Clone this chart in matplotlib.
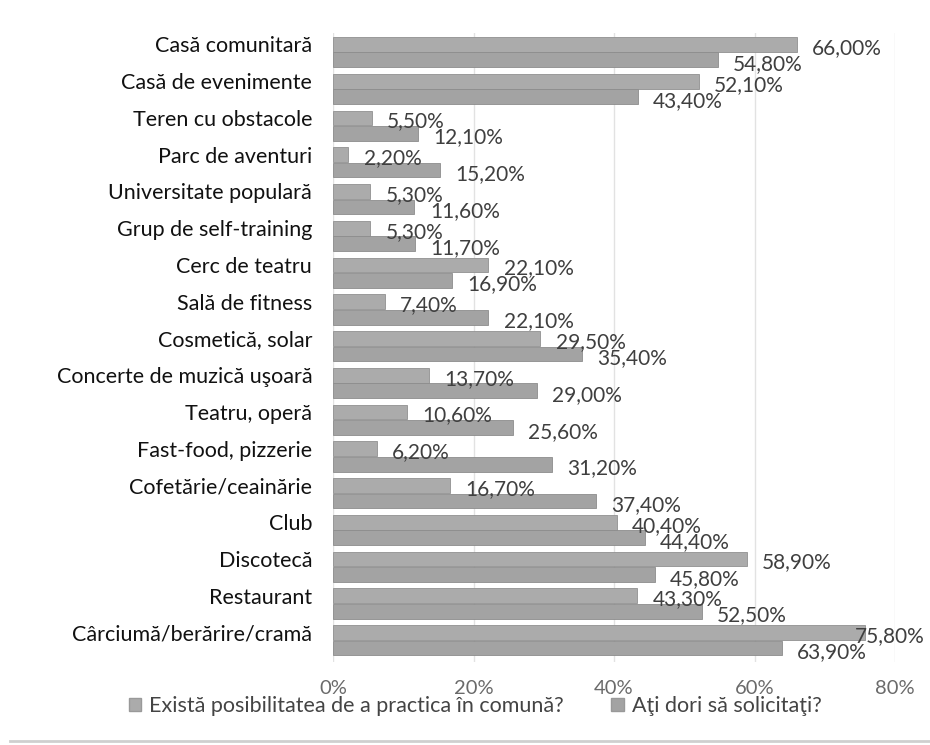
import matplotlib
matplotlib.use("Agg")
import matplotlib.pyplot as plt
from matplotlib.patches import Patch
from matplotlib.lines import Line2D
from matplotlib.transforms import blended_transform_factory
import numpy as np

plt.rcParams['font.family'] = ['Lato', 'DejaVu Sans']

categories = [
    "Casă comunitară", "Casă de evenimente", "Teren cu obstacole", "Parc de aventuri",
    "Universitate populară", "Grup de self-training", "Cerc de teatru", "Sală de fitness",
    "Cosmetică, solar", "Concerte de muzică uşoară", "Teatru, operă", "Fast-food, pizzerie",
    "Cofetărie/ceainărie", "Club", "Discotecă", "Restaurant", "Cârciumă/berărire/cramă",
]
exista = [66.0, 52.1, 5.5, 2.2, 5.3, 5.3, 22.1, 7.4, 29.5, 13.7, 10.6, 6.2, 16.7, 40.4, 58.9, 43.3, 75.8]
ati_dori = [54.8, 43.4, 12.1, 15.2, 11.6, 11.7, 16.9, 22.1, 35.4, 29.0, 25.6, 31.2, 37.4, 44.4, 45.8, 52.5, 63.9]
series_names = ["Există posibilitatea de a practica în comună?", "Aţi dori să solicitaţi?"]
xticks = [0, 20, 40, 60, 80]
xtick_labels = ["0%", "20%", "40%", "60%", "80%"]

W, H = 930, 745
fig = plt.figure(figsize=(W / 100, H / 100), dpi=100)
ax = fig.add_axes([333 / W, 1 - 662 / H, 562 / W, 629 / H])

y = np.arange(len(categories))
h = 0.40
off = 0.42
c1, c2 = "#ababab", "#a3a3a3"
ax.barh(y, exista, height=h, color=c1, edgecolor="#919191", linewidth=0.6, zorder=3)
ax.barh(y + off, ati_dori, height=h, color=c2, edgecolor="#8c8c8c", linewidth=0.6, zorder=3)

lab_col = "#3f3f3f"
edge_tr = blended_transform_factory(fig.transFigure, ax.transData)


def put_label(v, yy, dy):
    txt = f"{v:.2f}%".replace(".", ",")
    if v > 70:
        # keep label inside the figure, as the original chart does
        ax.annotate(txt, (925 / W, yy), xycoords=edge_tr, xytext=(0, dy), textcoords="offset points",
                    va="center", ha="right", fontsize=15, color=lab_col, zorder=4)
    else:
        ax.annotate(txt, (v, yy), xytext=(11, dy), textcoords="offset points",
                    va="center", ha="left", fontsize=15, color=lab_col, zorder=4)


for yi, v in zip(y, exista):
    put_label(v, yi, -2.5)
for yi, v in zip(y, ati_dori):
    put_label(v, yi + off, -3)

ax.set_xlim(0, 80)
ax.set_ylim(16.80, -0.31)
ax.set_yticks(y)
ax.set_yticklabels(categories, fontsize=15.5, color="#111111")
ax.set_xticks(xticks)
ax.set_xticklabels(xtick_labels, fontsize=14.5, color="#6a6a6a")
ax.tick_params(axis="y", length=0, pad=15)
ax.tick_params(axis="x", length=0, pad=13)
ax.grid(axis="x", color="#e2e2e2", linewidth=1, zorder=0)
for s in ax.spines.values():
    s.set_visible(False)

handles = [Patch(facecolor=c1, edgecolor="#999999"), Patch(facecolor=c2, edgecolor="#999999")]
fig.legend(handles, series_names, loc="center", bbox_to_anchor=(475 / W, 1 - 706 / H), ncol=2,
           frameon=False, fontsize=15.5, handlelength=0.6, handleheight=0.6, handletextpad=0.35,
           columnspacing=2.2, labelcolor="#444444", borderpad=0.1)

fig.add_artist(Line2D([10 / W, 1], [1 - 741 / H] * 2, transform=fig.transFigure,
                      color="#cfcfcf", linewidth=2))

fig.savefig("out.png", dpi=100)
